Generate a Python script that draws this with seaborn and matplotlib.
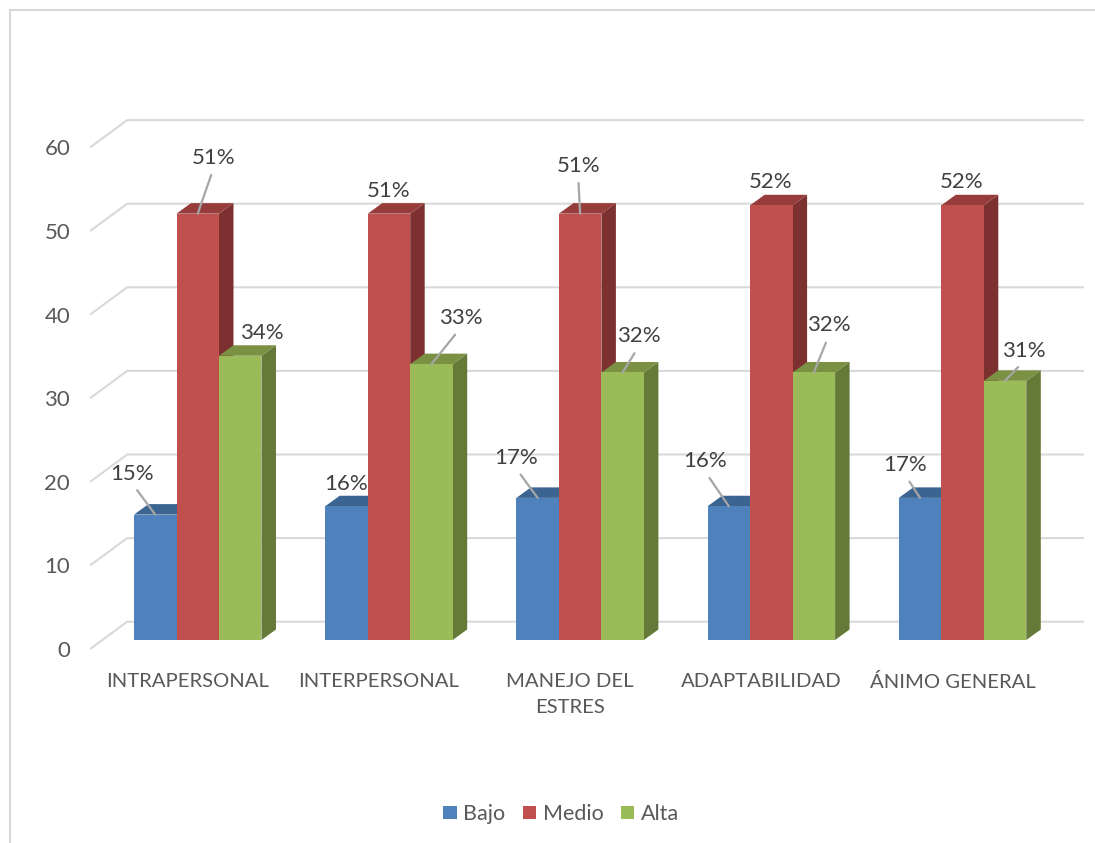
import matplotlib
matplotlib.use('Agg')
import matplotlib.pyplot as plt
import matplotlib.transforms as mtrans
from matplotlib.lines import Line2D
from matplotlib.patches import Polygon
import pandas as pd
import seaborn as sns

categories = ['INTRAPERSONAL', 'INTERPERSONAL', 'MANEJO DEL\nESTRES', 'ADAPTABILIDAD', 'ÁNIMO GENERAL']
bajo = [15, 16, 17, 16, 17]
medio = [51, 51, 51, 52, 52]
alta = [34, 33, 32, 32, 31]
y_ticks = [0, 10, 20, 30, 40, 50, 60]

front_colors = ['#4F81BD', '#C0504D', '#9BBB59']
top_colors = ['#3B6491', '#963D3B', '#7A9144']
side_colors = ['#2F4F74', '#7C302F', '#657A38']

# label offset from the bar top in pixels (dx, dy up) and whether it has a leader line
label_offsets = [
    [(-23, 41, True), (16, 56, True), (22, 23, False)],
    [(0, 22, False), (-0.5, 23, False), (29, 46, True)],
    [(-22, 40, True), (-2, 48, True), (16, 36, True)],
    [(-24, 45, True), (-1, 23, False), (15, 47, True)],
    [(-15, 33, True), (-1, 23, False), (19, 30, True)],
]

W, H = 1095, 843
PX_X = 191.2  # pixels per category
PX_Y = 8.36   # pixels per unit

sns.set_theme(style='white')
plt.rcParams['font.family'] = ['Lato', 'DejaVu Sans']

data = pd.DataFrame({
    'categoria': categories * 3,
    'serie': ['Bajo'] * 5 + ['Medio'] * 5 + ['Alta'] * 5,
    'valor': bajo + medio + alta,
})

fig = plt.figure(figsize=(W / 100, H / 100), dpi=100)
ax = fig.add_axes([102.15 / W, (H - 640) / H, 956 / W, 60 * PX_Y / H])
sns.barplot(data=data, x='categoria', y='valor', hue='serie', palette=front_colors,
            saturation=1, width=2 / 3, gap=0, errorbar=None, linewidth=0, ax=ax)
ax.set_xlim(-0.5, 4.5)
ax.set_ylim(0, 60)
ax.set_xlabel('')
ax.set_ylabel('')
ax.set_yticks(y_ticks)
sns.despine(ax=ax, left=True, bottom=True)
ax.patch.set_alpha(0)
ax.tick_params(axis='y', length=0, pad=23, labelsize=16, labelcolor='#595959')
ax.tick_params(axis='x', length=0, pad=23.5, labelsize=14.6, labelcolor='#595959')

# tick labels sit off the front plane of the bars
for lab in ax.get_yticklabels():
    lab.set_transform(lab.get_transform() + mtrans.ScaledTranslation(0, -9 / 100, fig.dpi_scale_trans))
for lab in ax.get_xticklabels():
    lab.set_transform(lab.get_transform() + mtrans.ScaledTranslation(-10 / 100, 0, fig.dpi_scale_trans))
    lab.set_linespacing(1.65)

# gridlines on wall and floor edge
grid_kw = dict(color='#d9d9d9', lw=1.5, clip_on=False, zorder=1, solid_capstyle='butt')
for v in y_ticks:
    ax.plot([-0.5 - 12 / PX_X, -0.5 + 25 / PX_X, 4.635], [v - 9 / PX_Y, v + 18.3 / PX_Y, v + 18.3 / PX_Y], **grid_kw)

# depth faces of every bar
dx = 14.5 / PX_X
dy = 10.5 / PX_Y
for s, cont in enumerate(ax.containers):
    for c, bar in enumerate(cont):
        x0 = bar.get_x()
        x1 = x0 + bar.get_width()
        h = bar.get_height()
        z = 3 + s * 2
        bar.set_zorder(z + 1)
        ax.add_patch(Polygon([(x1, 0), (x1 + dx, dy), (x1 + dx, h + dy), (x1, h)],
                             fc=side_colors[s], ec='none', clip_on=False, zorder=z))
        ax.add_patch(Polygon([(x0, h), (x0 + dx, h + dy), (x1 + dx, h + dy), (x1, h)],
                             fc=top_colors[s], ec='none', clip_on=False, zorder=z))
        off_x, off_y, leader = label_offsets[c][s]
        arrow = None
        if leader:
            arrow = dict(arrowstyle='-', color='#a6a6a6', lw=1.6, relpos=(0.5, 0), shrinkA=3, shrinkB=0)
        ax.annotate(f'{h:.0f}%', xy=(x0 + bar.get_width() / 2, h), xytext=(off_x, off_y),
                    textcoords='offset pixels', ha='center', va='center', fontsize=16,
                    color='#404040', arrowprops=arrow, zorder=20, annotation_clip=False)

sns.move_legend(ax, 'center', bbox_to_anchor=(561 / W, (H - 814) / H),
                bbox_transform=fig.transFigure, ncol=3, frameon=False, title=None,
                fontsize=15.5, labelcolor='#595959', handlelength=0.64, handleheight=0.6,
                handletextpad=0.3, columnspacing=0.8, borderaxespad=0, borderpad=0)

# chart frame, cut off by the right and bottom of the picture
frame_kw = dict(color='#d9d9d9', lw=1.5, transform=fig.transFigure)
fig.add_artist(Line2D([9.5 / W, 9.5 / W], [0, (H - 10) / H], **frame_kw))
fig.add_artist(Line2D([9.5 / W, 1], [(H - 10) / H, (H - 10) / H], **frame_kw))

fig.savefig('out.png', dpi=100, facecolor='white')
